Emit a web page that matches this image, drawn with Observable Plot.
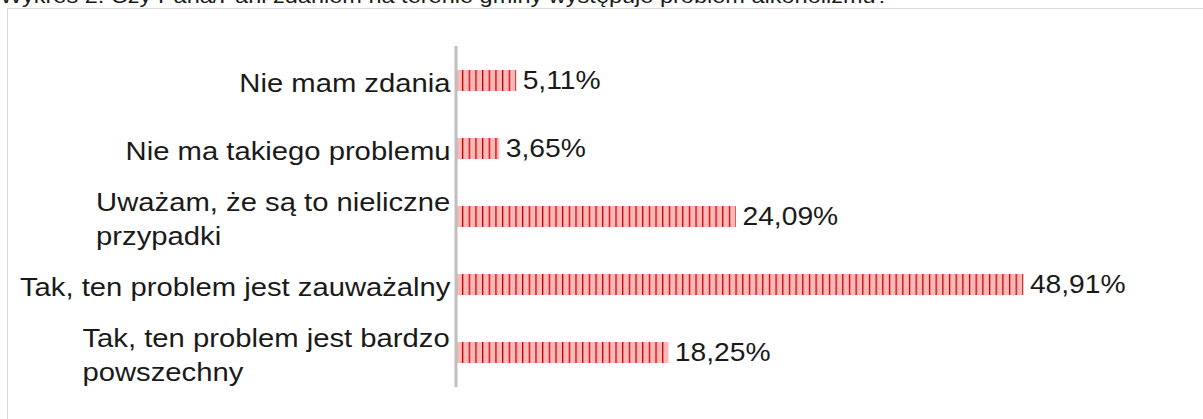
<!DOCTYPE html>
<html><head><meta charset="utf-8">
<script src="https://cdn.jsdelivr.net/npm/d3@7"></script>
<script src="https://cdn.jsdelivr.net/npm/@observablehq/plot@0.6"></script>
<style>
html,body{margin:0;padding:0;background:#fff;overflow:hidden;width:1203px;height:419px;}
#wrap{position:relative;width:1203px;height:419px;overflow:hidden;font-family:"Liberation Sans",Arial,sans-serif;}
#title{position:absolute;left:0;top:-15px;font-size:21px;line-height:21px;white-space:nowrap;color:#1a1a1a;transform:scaleX(1.12);transform-origin:0 0;}
#box{position:absolute;left:7px;top:8px;width:1300px;height:600px;border:1.5px solid #d9d9d9;box-sizing:border-box;}
#chart{position:absolute;left:0;top:0;}
</style></head>
<body>
<div id="wrap">
<div id="title">Wykres 2. Czy Pana/Pani zdaniem na terenie gminy występuje problem alkoholizmu?</div>
<div id="box"></div>
<div id="chart"></div>
</div>
<script>
const categories = [
  "Nie mam zdania",
  "Nie ma takiego problemu",
  "Uważam, że są to nieliczne\nprzypadki",
  "Tak, ten problem jest zauważalny",
  "Tak, ten problem jest bardzo\npowszechny"
];
const values = [5.11, 3.65, 24.09, 48.91, 18.25];

const data = categories.map((c, i) => ({category: c, value: values[i]}));
const fmt = v => v.toFixed(2).replace(".", ",") + "%";
const STRETCH_VALUES = 1.13;
const STRETCH_LABELS = 1.17;
const FONT = "'Liberation Sans', Arial, sans-serif";

const plot = Plot.plot({
  width: 1203,
  height: 419,
  marginLeft: 457,
  marginRight: 167,
  marginTop: 46,
  marginBottom: 32,
  style: {fontFamily: FONT, fontSize: "25px", color: "#1a1a1a", background: "transparent", overflow: "visible"},
  x: {domain: [0, 50], axis: null},
  y: {domain: categories, paddingInner: 0.69, paddingOuter: 0.345, axis: null},
  marks: [
    Plot.axisY({tickSize: 0, tickPadding: 7, fontSize: 25, lineHeight: 1.36, label: null, fill: "#1a1a1a"}),
    Plot.barX(data, {x: "value", y: "category", fill: "url(#stripes)"}),
    Plot.ruleX([0], {dx: -1.5, stroke: "#bfbfbf", strokeWidth: 3}),
    Plot.text(data, {x: "value", y: "category", text: d => fmt(d.value), textAnchor: "start", dx: 6, fontSize: 25, fill: "#1a1a1a"})
  ]
});

document.getElementById("chart").appendChild(plot);

// pattern for the bars
const svg = d3.select(plot);
const defs = svg.insert("defs", ":first-child");
const pat = defs.append("pattern")
  .attr("id", "stripes")
  .attr("patternUnits", "userSpaceOnUse")
  .attr("x", 462).attr("y", 0)
  .attr("width", 6.67).attr("height", 10);
pat.append("rect").attr("width", 6.67).attr("height", 10).attr("fill", "#ffb8b8");
pat.append("rect").attr("x", 0).attr("width", 1.3).attr("height", 10).attr("fill", "#c00000");

// left-align multi-line axis labels as a block, then stretch texts horizontally
const axisTexts = svg.selectAll("g[aria-label='y-axis tick label'] text");
axisTexts.each(function() {
  const t = d3.select(this);
  const spans = t.selectAll("tspan");
  if (spans.size() > 1) {
    const w = this.getBBox().width;
    t.attr("text-anchor", "start");
    spans.attr("x", -w);
  }
  t.attr("transform", (t.attr("transform") || "") + ` scale(${STRETCH_LABELS},1)`);
  t.classed("stretched", true);
});
svg.selectAll("text:not(.stretched)").each(function() {
  const t = d3.select(this);
  t.attr("transform", (t.attr("transform") || "") + ` scale(${STRETCH_VALUES},1)`);
});
</script>
</body></html>
